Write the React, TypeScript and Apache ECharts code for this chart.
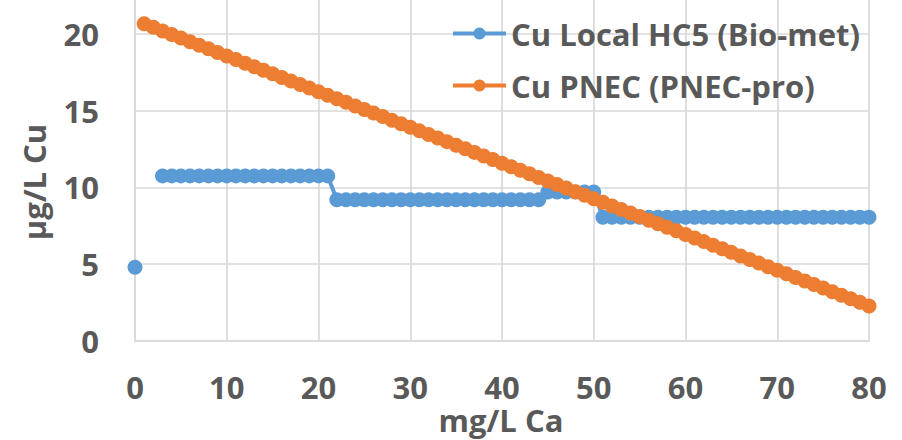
import React, { useEffect, useRef } from "react";
import * as echarts from "echarts";

const caValues: number[] = [
  0, 1, 2, 3, 4, 5, 6, 7, 8, 9, 10, 11, 12, 13, 14, 15, 16, 17, 18, 19, 20,
  21, 22, 23, 24, 25, 26, 27, 28, 29, 30, 31, 32, 33, 34, 35, 36, 37, 38, 39, 40,
  41, 42, 43, 44, 45, 46, 47, 48, 49, 50, 51, 52, 53, 54, 55, 56, 57, 58, 59, 60,
  61, 62, 63, 64, 65, 66, 67, 68, 69, 70, 71, 72, 73, 74, 75, 76, 77, 78, 79, 80,
];

const hc5Values: (number | null)[] = [
  4.8, null, null, 10.75, 10.75, 10.75, 10.75, 10.75, 10.75, 10.75, 10.75,
  10.75, 10.75, 10.75, 10.75, 10.75, 10.75, 10.75, 10.75, 10.75, 10.75,
  10.75, 9.2, 9.2, 9.2, 9.2, 9.2, 9.2, 9.2, 9.2, 9.2,
  9.2, 9.2, 9.2, 9.2, 9.2, 9.2, 9.2, 9.2, 9.2, 9.2,
  9.2, 9.2, 9.2, 9.2, 9.7, 9.7, 9.7, 9.7, 9.7, 9.7,
  8.05, 8.05, 8.05, 8.05, 8.05, 8.05, 8.05, 8.05, 8.05, 8.05,
  8.05, 8.05, 8.05, 8.05, 8.05, 8.05, 8.05, 8.05, 8.05, 8.05,
  8.05, 8.05, 8.05, 8.05, 8.05, 8.05, 8.05, 8.05, 8.05, 8.05,
];

const pnecValues: (number | null)[] = [
  null, 20.65, 20.42, 20.19, 19.95, 19.72, 19.49, 19.26, 19.02, 18.79, 18.56,
  18.33, 18.09, 17.86, 17.63, 17.4, 17.16, 16.93, 16.7, 16.47, 16.23,
  16.0, 15.77, 15.54, 15.3, 15.07, 14.84, 14.61, 14.37, 14.14, 13.91,
  13.68, 13.44, 13.21, 12.98, 12.75, 12.51, 12.28, 12.05, 11.82, 11.58,
  11.35, 11.12, 10.89, 10.65, 10.42, 10.19, 9.96, 9.72, 9.49, 9.26,
  9.03, 8.79, 8.56, 8.33, 8.1, 7.86, 7.63, 7.4, 7.17, 6.93,
  6.7, 6.47, 6.24, 6.0, 5.77, 5.54, 5.31, 5.07, 4.84, 4.61,
  4.38, 4.14, 3.91, 3.68, 3.45, 3.21, 2.98, 2.75, 2.52, 2.28,
];

const seriesNames = ["Cu Local HC5 (Bio-met)", "Cu PNEC (PNEC-pro)"];
const xTitle = "mg/L Ca";
const yTitle = "µg/L Cu";

const FONT = "'Open Sans', 'Noto Sans', sans-serif";
const TEXT = "#595959";
const GRID = "#D9D9D9";
const FS = 31;

export default function App() {
  const ref = useRef<HTMLDivElement>(null);
  useEffect(() => {
    if (!ref.current) return;
    const chart = echarts.init(ref.current, undefined, { renderer: "svg" });
    const pairs = (vals: (number | null)[]) =>
      caValues.map((x, i) => [x, vals[i] === null ? null : vals[i]]);
    chart.setOption({
      animation: false,
      backgroundColor: "#ffffff",
      grid: {
        left: 135,
        right: 33,
        top: -43,
        bottom: 99,
        containLabel: false,
        outerBoundsMode: "none",
      },
      legend: {
        left: 446,
        top: 13,
        padding: 5,
        orient: "vertical",
        itemWidth: 53,
        itemHeight: 15,
        itemGap: 21,
        data: seriesNames,
        lineStyle: { width: 4 },
        textStyle: { color: TEXT, fontSize: FS, fontWeight: "bold", fontFamily: FONT },
      },
      xAxis: {
        type: "value",
        min: 0,
        max: 80,
        interval: 10,
        axisLine: { show: true, lineStyle: { color: GRID, width: 1.7 } },
        axisTick: { show: false },
        axisLabel: { color: TEXT, fontSize: FS, fontWeight: "bold", fontFamily: FONT, margin: 30 },
        splitLine: { show: true, lineStyle: { color: GRID, width: 1.7 } },
      },
      yAxis: {
        type: "value",
        min: 0,
        max: 25,
        interval: 5,
        axisLine: { show: true, lineStyle: { color: GRID, width: 1.7 } },
        axisTick: { show: false },
        axisLabel: {
          color: TEXT,
          fontSize: FS,
          fontWeight: "bold",
          fontFamily: FONT,
          margin: 36,
          showMaxLabel: false,
        },
        splitLine: { show: true, lineStyle: { color: GRID, width: 1.7 } },
      },
      graphic: [
        {
          type: "text",
          x: 34,
          y: 182,
          rotation: Math.PI / 2,
          style: {
            text: yTitle,
            fill: TEXT,
            font: `bold ${FS}px ${FONT}`,
            align: "center",
            verticalAlign: "middle",
          },
        },
        {
          type: "text",
          x: 501,
          y: 420,
          style: {
            text: xTitle,
            fill: TEXT,
            font: `bold ${FS}px ${FONT}`,
            align: "center",
            verticalAlign: "middle",
          },
        },
      ],
      series: [
        {
          name: seriesNames[0],
          type: "line",
          data: pairs(hc5Values),
          connectNulls: false,
          symbol: "circle",
          symbolSize: 15,
          showAllSymbol: true,
          itemStyle: { color: "#5B9BD5" },
          lineStyle: { color: "#5B9BD5", width: 4 },
        },
        {
          name: seriesNames[1],
          type: "line",
          data: pairs(pnecValues),
          connectNulls: false,
          symbol: "circle",
          symbolSize: 15,
          showAllSymbol: true,
          itemStyle: { color: "#ED7D31" },
          lineStyle: { color: "#ED7D31", width: 4 },
        },
      ],
    });
    return () => chart.dispose();
  }, []);
  return <div ref={ref} style={{ width: 902, height: 440, position: "absolute", left: 0, top: 0 }} />;
}
